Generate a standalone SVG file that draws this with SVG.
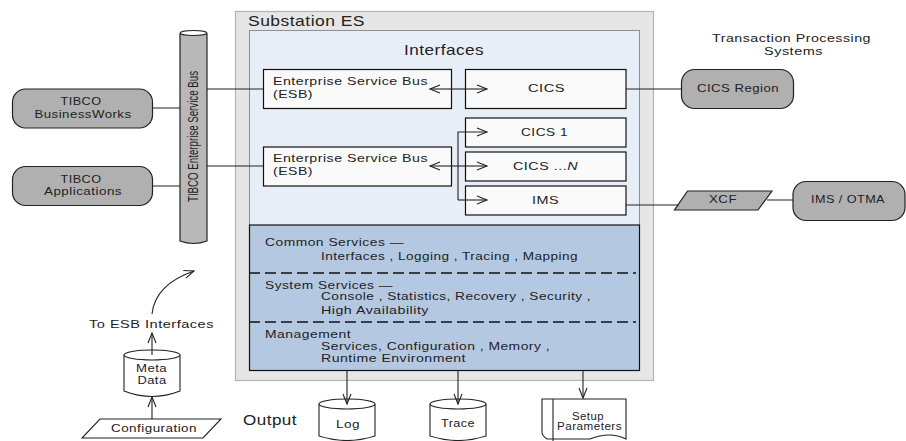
<svg xmlns="http://www.w3.org/2000/svg" width="906" height="441" viewBox="0 0 906 441">
<style>
text{font-family:"Liberation Sans",Arial,sans-serif;font-size:11.5px;fill:#222;letter-spacing:.4px}
.b{fill:#fafafa;stroke:#111;stroke-width:1.2}
.r{fill:#b0b0b0;stroke:#222;stroke-width:1.2}
.c{fill:none;stroke:#222;stroke-width:1.1}
.d{fill:none;stroke:#111;stroke-width:1.5;stroke-dasharray:11 5}
.cy{fill:#fff;stroke:#222;stroke-width:1.1}
.big{font-size:14.5px}
.sm{font-size:10px}
</style>
<defs>
<marker id="a" markerWidth="14" markerHeight="12" refX="11" refY="5" orient="auto" markerUnits="userSpaceOnUse"><path d="M1 1L11 5L1 9" fill="none" stroke="#222" stroke-width="1.1"/></marker>
</defs>
<g id="substation"><rect x="235.500" y="11.500" width="418" height="369" fill="#e6e6e6" stroke="#b4b4b4" stroke-width="1.200"/><text x="248" y="25.500" class="big" textLength="117" lengthAdjust="spacingAndGlyphs">Substation ES</text></g>
<g id="interfaces"><rect x="249.500" y="30.500" width="390" height="195" fill="#e8eef7" stroke="#8c9098"/><text x="404" y="55" class="big" textLength="80" lengthAdjust="spacingAndGlyphs">Interfaces</text></g>
<g id="services">
<rect x="249.500" y="225" width="390" height="145.500" fill="#b5c8e2" stroke="#111" stroke-width="1.200"/>
<line class="d" x1="249" y1="273" x2="636" y2="273"/><line class="d" x1="249" y1="322" x2="636" y2="322"/>
<text x="265" y="246" textLength="139" lengthAdjust="spacingAndGlyphs">Common Services —</text><text x="321" y="260" textLength="257" lengthAdjust="spacingAndGlyphs">Interfaces , Logging , Tracing , Mapping</text>
<text x="265" y="289" textLength="128" lengthAdjust="spacingAndGlyphs">System Services —</text><text x="321" y="300" textLength="270" lengthAdjust="spacingAndGlyphs">Console , Statistics, Recovery , Security ,</text><text x="321" y="314" textLength="108" lengthAdjust="spacingAndGlyphs">High Availability</text>
<text x="265" y="338" textLength="86" lengthAdjust="spacingAndGlyphs">Management</text><text x="321" y="350" textLength="229" lengthAdjust="spacingAndGlyphs">Services, Configuration , Memory ,</text><text x="321" y="362" textLength="145" lengthAdjust="spacingAndGlyphs">Runtime Environment</text>
</g>
<g id="bus"><path d="M180 34V241Q193.500 246 207 241V34Z" fill="#b8b8b8" stroke="#222" stroke-width="1.200"/><ellipse cx="193.500" cy="33" rx="13.500" ry="2.500" class="cy"/><text transform="translate(198 202) rotate(-90)" style="font-size:15px;letter-spacing:0" textLength="131" lengthAdjust="spacingAndGlyphs">TIBCO Enterprise Service Bus</text></g>
<g id="bw"><rect x="12.500" y="89" width="140" height="39" rx="13" class="r"/><text x="60.500" y="105" textLength="41" lengthAdjust="spacingAndGlyphs">TIBCO</text><text x="34.500" y="118" textLength="97" lengthAdjust="spacingAndGlyphs">BusinessWorks</text></g>
<g id="apps"><rect x="12.500" y="166.500" width="140" height="39" rx="13" class="r"/><text x="60.500" y="183" textLength="41" lengthAdjust="spacingAndGlyphs">TIBCO</text><text x="44" y="195" textLength="78" lengthAdjust="spacingAndGlyphs">Applications</text></g>
<g id="esb1"><rect x="263.500" y="69.500" width="188" height="39" class="b"/><text x="273" y="85" textLength="155" lengthAdjust="spacingAndGlyphs">Enterprise Service Bus</text><text x="273" y="98" textLength="40" lengthAdjust="spacingAndGlyphs">(ESB)</text></g>
<g id="esb2"><rect x="263.500" y="147" width="188" height="39" class="b"/><text x="273" y="162" textLength="155" lengthAdjust="spacingAndGlyphs">Enterprise Service Bus</text><text x="273" y="175" textLength="40" lengthAdjust="spacingAndGlyphs">(ESB)</text></g>
<g id="cics"><rect x="465.500" y="69.500" width="160.500" height="39" class="b"/><text x="528" y="92" textLength="37" lengthAdjust="spacingAndGlyphs">CICS</text></g>
<g id="cics1"><rect x="465.500" y="118" width="160.500" height="29" class="b"/><text x="521" y="136" textLength="47" lengthAdjust="spacingAndGlyphs">CICS 1</text></g>
<g id="cicsn"><rect x="465.500" y="152" width="160.500" height="29" class="b"/><text x="513" y="170" textLength="65" lengthAdjust="spacingAndGlyphs">CICS ...<tspan font-style="italic">N</tspan></text></g>
<g id="ims"><rect x="465.500" y="186" width="160.500" height="29" class="b"/><text x="532" y="204" textLength="27" lengthAdjust="spacingAndGlyphs">IMS</text></g>
<g id="region"><rect x="681.500" y="69.500" width="112" height="39" rx="13" class="r"/><text x="697" y="92" textLength="82" lengthAdjust="spacingAndGlyphs">CICS Region</text></g>
<g id="xcf"><path d="M687.500 191H772L758 210H674.500Z" class="r"/><text x="709" y="203" textLength="28" lengthAdjust="spacingAndGlyphs">XCF</text></g>
<g id="otma"><rect x="793" y="181.500" width="112" height="39" rx="13" class="r"/><text x="811" y="203" textLength="74" lengthAdjust="spacingAndGlyphs">IMS / OTMA</text></g>
<text x="712" y="42" textLength="159" lengthAdjust="spacingAndGlyphs">Transaction Processing</text><text x="764" y="55" textLength="59" lengthAdjust="spacingAndGlyphs">Systems</text>
<g id="metadata"><path d="M124 355V391Q152 402 180 391V355" class="cy"/><ellipse cx="152" cy="355" rx="28" ry="5" class="cy"/><text x="136" y="372" textLength="31" lengthAdjust="spacingAndGlyphs">Meta</text><text x="137.500" y="384" textLength="29" lengthAdjust="spacingAndGlyphs">Data</text></g>
<text x="89" y="328" textLength="125" lengthAdjust="spacingAndGlyphs">To ESB Interfaces</text>
<g id="config"><path d="M100 419H221L203 438H82Z" fill="#fff" stroke="#222" stroke-width="1.100"/><text x="111" y="432" textLength="86" lengthAdjust="spacingAndGlyphs">Configuration</text></g>
<text x="243" y="425" class="big" textLength="54" lengthAdjust="spacingAndGlyphs">Output</text>
<g id="log"><path d="M319 404V436Q347 445 375 436V404" class="cy"/><ellipse cx="347" cy="404" rx="28" ry="5" class="cy"/><text x="336" y="428" textLength="24" lengthAdjust="spacingAndGlyphs">Log</text></g>
<g id="trace"><path d="M430 404V436Q458 445 486 436V404" class="cy"/><ellipse cx="458" cy="404" rx="28" ry="5" class="cy"/><text x="441" y="427" textLength="34" lengthAdjust="spacingAndGlyphs">Trace</text></g>
<g id="setup"><path d="M542 399H626V439Q610 431 590 439H547Q542 436 542 432Z" class="cy"/><line x1="553" y1="399" x2="553" y2="441" class="c"/><text x="572" y="419.500" class="sm" textLength="32" lengthAdjust="spacingAndGlyphs">Setup</text><text x="557" y="429.500" class="sm" textLength="65" lengthAdjust="spacingAndGlyphs">Parameters</text></g>
<g id="connectors">
<path class="c" d="M152 108H180M152 186H180M207 89H263M207 166H263M626 89H681M626 205H679M767 200H793"/>
<path class="c" d="M458 89H487" marker-end="url(#a)"/><path class="c" d="M458 89H430" marker-end="url(#a)"/>
<path class="c" d="M458 166H487" marker-end="url(#a)"/><path class="c" d="M458 166H430" marker-end="url(#a)"/>
<path class="c" d="M458 200V132H487" marker-end="url(#a)"/><path class="c" d="M458 200H487" marker-end="url(#a)"/>
<path class="c" d="M152 355V333" marker-end="url(#a)"/>
<path class="c" d="M152 419V397" marker-end="url(#a)"/>
<path class="c" d="M152 314C154 295 168 280 194 271" marker-end="url(#a)"/>
<path class="c" d="M347 371V404" marker-end="url(#a)"/><path class="c" d="M458 371V404" marker-end="url(#a)"/><path class="c" d="M583 371V398" marker-end="url(#a)"/>
</g>
</svg>
